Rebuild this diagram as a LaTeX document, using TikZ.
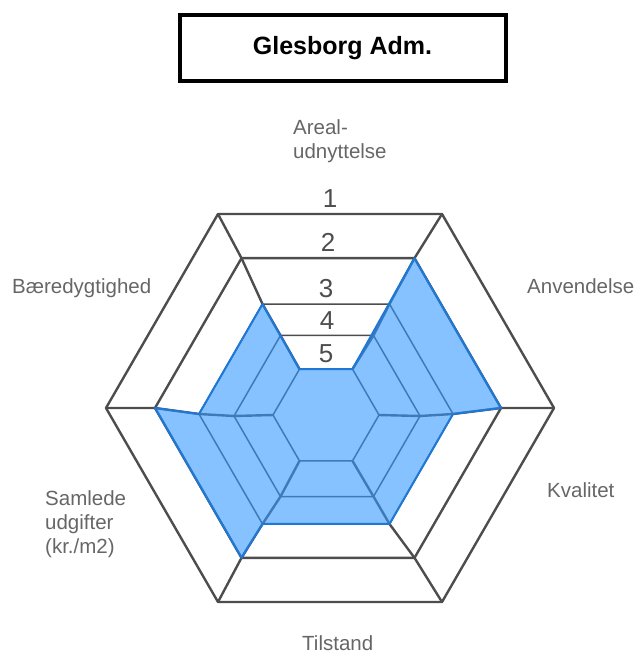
\documentclass[tikz,border=0pt]{standalone}
\usepackage{fontspec}
\setmainfont{Liberation Sans}
\usetikzlibrary{calc}
\definecolor{gridgray}{HTML}{4D4D4D}
\definecolor{labelgray}{HTML}{666666}
\definecolor{areablue}{HTML}{3399FF}
\definecolor{edgeblue}{HTML}{1F78D6}

\begin{document}
\begin{tikzpicture}[x=1pt, y=-1pt,
    axislabel/.style={text=labelgray, inner sep=0pt, font=\fontsize{20.5}{24}\selectfont},
    levellabel/.style={text=gridgray, inner sep=0pt, font=\fontsize{26}{28}\selectfont}]
  \useasboundingbox (0,0) rectangle (639,653);

  % title
  \node[draw=black, line width=4pt, minimum width=326pt, minimum height=65.5pt,
        font=\bfseries\fontsize{25}{30}\selectfont] (title) at (342.5,48) {Glesborg Adm.};

  % grid points, one hexagon per level
  \foreach \l/\cx/\cy/\r in {1/330/408/224, 2/328/408/173, 3/326/414/127, 4/327/416/93, 5/326/415/53} {
    \foreach \k in {0,...,5} {
      \coordinate (L\l-\k) at ({\cx+\r*cos(\k*60)},{\cy-\r*sin(\k*60)});
    }
  }

  % hexagons
  \foreach \l/\w in {1/2.4pt, 2/2.4pt, 3/1.5pt, 4/1.5pt, 5/1.5pt} {
    \draw[gridgray, line width=\w, line join=round]
      (L\l-0) -- (L\l-1) -- (L\l-2) -- (L\l-3) -- (L\l-4) -- (L\l-5) -- cycle;
  }
  % spokes
  \foreach \k in {0,...,5} {
    \draw[gridgray, line width=2.4pt, line join=round]
      (L1-\k) -- (L2-\k) -- (L3-\k) -- (L4-\k) -- (L5-\k);
  }

  % values
  \filldraw[fill=areablue, fill opacity=0.6, draw=edgeblue, line width=2pt, line join=round]
    (L2-0) -- (L2-1) -- (L5-1) -- (L5-2) -- (L3-2) -- (L3-3) -- (L2-3)
    -- (L2-4) -- (L3-4) -- (L3-5) -- (L3-0) -- cycle;

  % level numbers
  \foreach \l in {1,...,5} {
    \node[levellabel, above=6pt] (n\l) at ($(L\l-1)!0.5!(L\l-2)$) {\l};
  }

  % axis labels
  \node[axislabel, anchor=west, align=left] (areal) at (293,141.3) {Areal-\\udnyttelse};
  \node[axislabel, anchor=base west] (anvendelse) at (527,293) {Anvendelse};
  \node[axislabel, anchor=base west] (kvalitet) at (547,497) {Kvalitet};
  \node[axislabel, anchor=base west] (tilstand) at (302,650) {Tilstand};
  \node[axislabel, anchor=west, align=left] (udgifter) at (45,524) {Samlede\\udgifter\\(kr./m2)};
  \node[axislabel, anchor=base west] (baeredygtighed) at (12,293) {Bæredygtighed};
\end{tikzpicture}
\end{document}
